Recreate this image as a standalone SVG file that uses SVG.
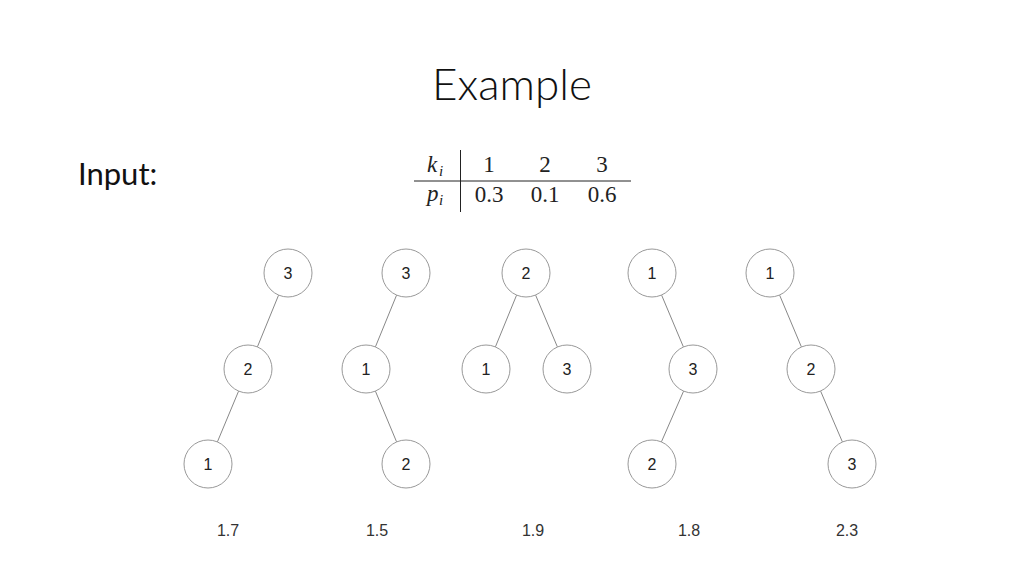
<svg xmlns="http://www.w3.org/2000/svg" width="1024" height="576" viewBox="0 0 1024 576">
<style>
.node circle{fill:#fff;stroke:#999;stroke-width:1}
.node text{font-family:"Liberation Sans",Arial,sans-serif;font-size:16px;fill:#222;text-anchor:middle;dominant-baseline:central}
.edges line{stroke:#888;stroke-width:1}
.cost{font-family:"Liberation Sans",Arial,sans-serif;font-size:16px;fill:#333;text-anchor:middle}
.tex{font-family:"Liberation Serif","Times New Roman",serif;font-size:23px;fill:#222}
.it{font-family:"Liberation Serif","Times New Roman",serif;font-style:italic;fill:#222}
</style>
<rect width="1024" height="576" fill="#fff"/>
<text x="512" y="100" font-family="Lato, 'Open Sans', sans-serif" font-weight="300" font-size="44" fill="#111" text-anchor="middle">Example</text>
<text x="78" y="185" font-family="Lato, 'Open Sans', sans-serif" font-size="31" fill="#111">Input:</text>
<g id="table">
<line x1="414" y1="181" x2="631" y2="181" stroke="#222" stroke-width="1"/>
<line x1="460.5" y1="150" x2="460.5" y2="212" stroke="#222" stroke-width="1"/>
<text class="it" x="427" y="172" font-size="23">k</text><text class="it" x="439" y="176" font-size="15">i</text>
<text class="it" x="427" y="201" font-size="23">p</text><text class="it" x="439" y="205" font-size="15">i</text>
<text class="tex" x="489" y="172" text-anchor="middle">1</text>
<text class="tex" x="545" y="172" text-anchor="middle">2</text>
<text class="tex" x="602" y="172" text-anchor="middle">3</text>
<text class="tex" x="489" y="202" text-anchor="middle">0.3</text>
<text class="tex" x="545" y="202" text-anchor="middle">0.1</text>
<text class="tex" x="602" y="202" text-anchor="middle">0.6</text>
</g>
<g class="edges" id="connectors">
<line x1="278.6" y1="295.1" x2="257.4" y2="346.9"/>
<line x1="238.6" y1="391.1" x2="217.4" y2="441.9"/>
<line x1="396.6" y1="295.1" x2="375.4" y2="346.9"/>
<line x1="375.4" y1="391.1" x2="396.6" y2="441.9"/>
<line x1="516.6" y1="295.1" x2="495.4" y2="346.9"/>
<line x1="535.6" y1="295.1" x2="557.4" y2="346.9"/>
<line x1="661.6" y1="295.1" x2="683.4" y2="346.9"/>
<line x1="683.6" y1="391.1" x2="661.4" y2="441.9"/>
<line x1="779.6" y1="295.1" x2="801.4" y2="346.9"/>
<line x1="820.6" y1="391.1" x2="842.4" y2="441.9"/>
</g>
<g id="t1n3" class="node"><circle cx="288" cy="273" r="24"/><text x="288" y="273">3</text></g>
<g id="t1n2" class="node"><circle cx="248" cy="369" r="24"/><text x="248" y="369">2</text></g>
<g id="t1n1" class="node"><circle cx="208" cy="464" r="24"/><text x="208" y="464">1</text></g>
<g id="t2n3" class="node"><circle cx="406" cy="273" r="24"/><text x="406" y="273">3</text></g>
<g id="t2n1" class="node"><circle cx="366" cy="369" r="24"/><text x="366" y="369">1</text></g>
<g id="t2n2" class="node"><circle cx="406" cy="464" r="24"/><text x="406" y="464">2</text></g>
<g id="t3n2" class="node"><circle cx="526" cy="273" r="24"/><text x="526" y="273">2</text></g>
<g id="t3n1" class="node"><circle cx="486" cy="369" r="24"/><text x="486" y="369">1</text></g>
<g id="t3n3" class="node"><circle cx="567" cy="369" r="24"/><text x="567" y="369">3</text></g>
<g id="t4n1" class="node"><circle cx="652" cy="273" r="24"/><text x="652" y="273">1</text></g>
<g id="t4n3" class="node"><circle cx="693" cy="369" r="24"/><text x="693" y="369">3</text></g>
<g id="t4n2" class="node"><circle cx="652" cy="464" r="24"/><text x="652" y="464">2</text></g>
<g id="t5n1" class="node"><circle cx="770" cy="273" r="24"/><text x="770" y="273">1</text></g>
<g id="t5n2" class="node"><circle cx="811" cy="369" r="24"/><text x="811" y="369">2</text></g>
<g id="t5n3" class="node"><circle cx="852" cy="464" r="24"/><text x="852" y="464">3</text></g>
<g id="costs">
<text class="cost" x="228" y="536">1.7</text>
<text class="cost" x="377" y="536">1.5</text>
<text class="cost" x="533" y="536">1.9</text>
<text class="cost" x="689" y="536">1.8</text>
<text class="cost" x="847" y="536">2.3</text>
</g>
</svg>
